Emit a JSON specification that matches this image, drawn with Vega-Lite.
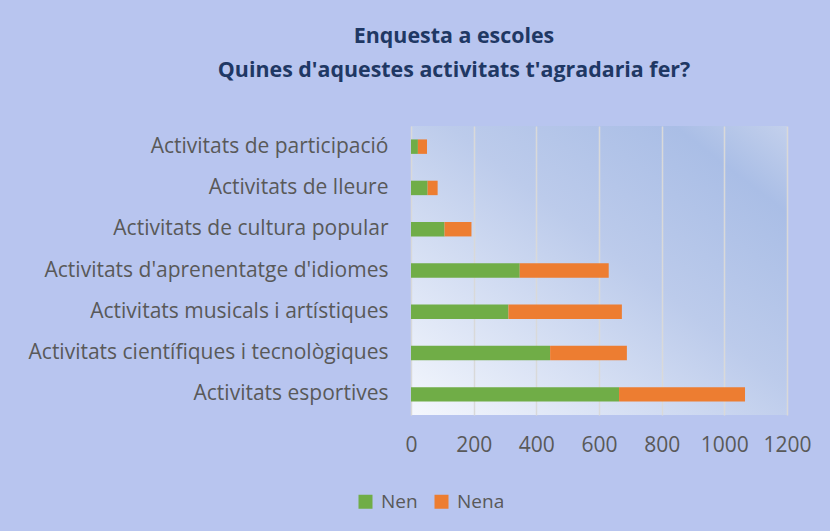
{
  "$schema": "https://vega.github.io/schema/vega-lite/v6.json",
  "width": 376,
  "height": 289,
  "autosize": {"type": "none"},
  "padding": {"left": 411, "top": 126, "right": 43, "bottom": 116},
  "background": "#b8c5ef",
  "title": {
    "text": ["Enquesta a escoles", "Quines d'aquestes activitats t'agradaria fer?"],
    "font": "Open Sans",
    "fontSize": 21.4,
    "fontWeight": "bold",
    "color": "#1f3864",
    "anchor": "middle",
    "dx": -145,
    "offset": 45,
    "lineHeight": 34
  },
  "data": {
    "values": [
      {"activitat": "Activitats de participació", "grup": "Nen", "valor": 22},
      {"activitat": "Activitats de participació", "grup": "Nena", "valor": 29},
      {"activitat": "Activitats de lleure", "grup": "Nen", "valor": 53},
      {"activitat": "Activitats de lleure", "grup": "Nena", "valor": 32},
      {"activitat": "Activitats de cultura popular", "grup": "Nen", "valor": 107},
      {"activitat": "Activitats de cultura popular", "grup": "Nena", "valor": 86},
      {"activitat": "Activitats d'aprenentatge d'idiomes", "grup": "Nen", "valor": 347},
      {"activitat": "Activitats d'aprenentatge d'idiomes", "grup": "Nena", "valor": 284},
      {"activitat": "Activitats musicals i artístiques", "grup": "Nen", "valor": 311},
      {"activitat": "Activitats musicals i artístiques", "grup": "Nena", "valor": 362},
      {"activitat": "Activitats científiques i tecnològiques", "grup": "Nen", "valor": 444},
      {"activitat": "Activitats científiques i tecnològiques", "grup": "Nena", "valor": 245},
      {"activitat": "Activitats esportives", "grup": "Nen", "valor": 664},
      {"activitat": "Activitats esportives", "grup": "Nena", "valor": 402}
    ]
  },
  "mark": {"type": "bar"},
  "encoding": {
    "y": {
      "field": "activitat",
      "type": "nominal",
      "sort": null,
      "scale": {"paddingInner": 0.65, "paddingOuter": 0.325},
      "axis": {
        "title": null,
        "domain": false,
        "ticks": false,
        "labelPadding": 23,
        "labelFont": "Open Sans",
        "labelFontSize": 21,
        "labelColor": "#595959",
        "labelLimit": 500
      }
    },
    "x": {
      "field": "valor",
      "type": "quantitative",
      "stack": "zero",
      "scale": {"domain": [0, 1200], "nice": false},
      "axis": {
        "title": null,
        "values": [0, 200, 400, 600, 800, 1000, 1200],
        "format": "d",
        "domain": false,
        "ticks": false,
        "labelPadding": 19,
        "labelFont": "Open Sans",
        "labelFontSize": 21,
        "labelColor": "#595959",
        "labelFlush": false,
        "gridColor": "#d9d9d9",
        "gridWidth": 1.5,
        "gridOpacity": 1
      }
    },
    "color": {
      "field": "grup",
      "type": "nominal",
      "scale": {"domain": ["Nen", "Nena"], "range": ["#70ad47", "#ed7d31"]},
      "legend": {
        "title": null,
        "orient": "none",
        "direction": "horizontal",
        "legendX": -55,
        "legendY": 366,
        "symbolType": "square",
        "symbolSize": 196,
        "symbolStrokeWidth": 0,
        "symbolOpacity": 1,
        "labelFont": "Open Sans",
        "labelFontSize": 19,
        "labelColor": "#595959",
        "labelOffset": 6,
        "columnPadding": 14
      }
    }
  },
  "config": {
    "view": {
      "stroke": null,
      "fill": {
        "gradient": "linear",
        "x1": 0, "y1": 1, "x2": 1, "y2": 0,
        "stops": [
          {"offset": 0, "color": "#f4f7fd"},
          {"offset": 0.55, "color": "#bccbeb"},
          {"offset": 0.85, "color": "#aabee6"},
          {"offset": 1, "color": "#c3d0ec"}
        ]
      }
    }
  }
}
